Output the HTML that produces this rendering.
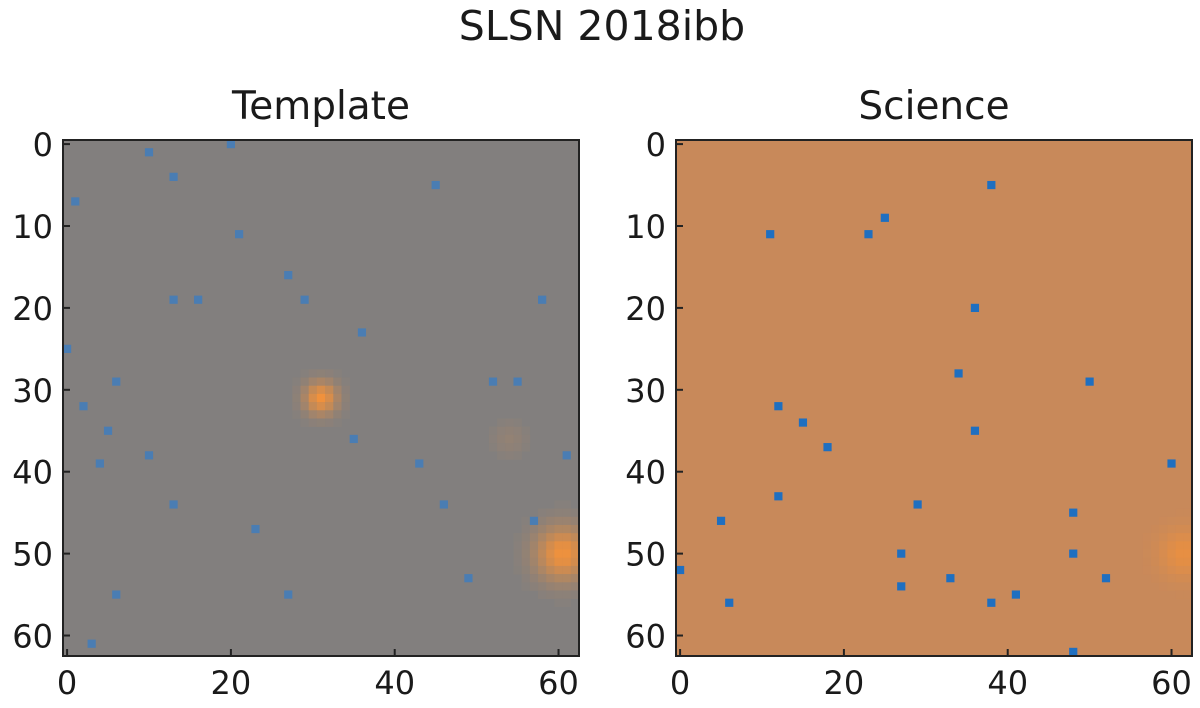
<!DOCTYPE html>
<html><head><meta charset="utf-8"><style>
body{margin:0;background:#fff;}
text{font-family:"DejaVu Sans","Liberation Sans",sans-serif;fill:#1a1a1a;}
</style></head><body>
<svg id="fig" width="1200" height="703" viewBox="0 0 1200 703" xmlns="http://www.w3.org/2000/svg">
<text x="602" y="40" font-size="41" text-anchor="middle">SLSN 2018ibb</text>
<text x="321" y="119" font-size="39" text-anchor="middle">Template</text>
<text x="934" y="119" font-size="39" text-anchor="middle">Science</text>
<g id="p0"></g>
<g id="p1"></g>
</svg>
<script>
const N = 63;
const ticks = [0,10,20,30,40,50,60];
const xticks = [0,20,40,60];
const templateBg = [130,127,126];
const scienceBg = [200,137,90];
const sourceColor = [240,145,60];
const templateSources = [[31,31,1.0,1.4],[60.5,50,1.0,2.3],[54,36,0.15,1.5]];
const scienceSources = [[61.5,50,0.8,2.0]];
const templateBlue = [[10,1],[20,0],[13,4],[1,7],[21,11],[13,19],[16,19],[27,16],[36,23],[0,25],[6,29],[5,35],[4,39],[10,38],[13,44],[2,32],[52,29],[58,19],[61,38],[46,44],[43,39],[55,29],[49,53],[6,55],[27,55],[35,36],[29,19],[45,5],[57,46],[23,47],[3,61]];
const scienceBlue = [[25,9],[11,11],[23,11],[38,5],[36,20],[34,28],[50,29],[12,32],[15,34],[36,35],[18,37],[60,39],[12,43],[29,44],[48,45],[5,46],[27,50],[48,50],[33,53],[52,53],[27,54],[41,55],[6,56],[38,56],[48,62],[0,52]];
const panels = [
 {id:'p0', x0:63, y0:140, bg:templateBg, src:templateSources, blue:templateBlue, blueCol:'#4a7db3', name:'template'},
 {id:'p1', x0:676, y0:140, bg:scienceBg, src:scienceSources, blue:scienceBlue, blueCol:'#1f6fc0', name:'science'}
];
const S = 516;
const NS = 'http://www.w3.org/2000/svg';
function mk(tag, attrs, parent){const e=document.createElementNS(NS,tag);for(const k in attrs)e.setAttribute(k,attrs[k]);parent.appendChild(e);return e;}
panels.forEach(p=>{
  const g = document.getElementById(p.id);
  const cw = S/N;
  const sx = v => p.x0 + (v+0.5)*cw;
  const sy = v => p.y0 + (v+0.5)*cw;
  const bgRect = mk('rect',{x:p.x0,y:p.y0,width:S,height:S,fill:`rgb(${p.bg.join(',')})`},g);
  
  
  for(let r=0;r<N;r++)for(let c=0;c<N;c++){
    let a=0;
    p.src.forEach(s=>{const d=((c-s[0])**2+(r-s[1])**2)/(2*s[3]*s[3]);a+=s[2]*Math.exp(-d);});
    if(a<0.03)continue;a=Math.min(1,a);
    const col=p.bg.map((v,i)=>Math.round(v+(sourceColor[i]-v)*a));
    const cell=mk('rect',{x:sx(c)-cw/2,y:sy(r)-cw/2,width:cw+0.3,height:cw+0.3,fill:`rgb(${col.join(',')})`},g);
    
    
  }
  p.blue.forEach(b=>{
    const cell=mk('rect',{x:sx(b[0])-cw/2,y:sy(b[1])-cw/2,width:cw,height:cw,fill:p.blueCol},g);
    
    
  });
  const frame=mk('rect',{x:p.x0,y:p.y0,width:S,height:S,fill:'none',stroke:'#222','stroke-width':2},g);
  
  
  ticks.forEach(t=>{
    const y=sy(t);
    mk('line',{x1:p.x0,x2:p.x0+7,y1:y,y2:y,stroke:'#222','stroke-width':2},g);
    const tx=mk('text',{x:p.x0-10,y:y+12,'font-size':32,'text-anchor':'end'},g);
    tx.textContent=t;
    
    
  });
  xticks.forEach(t=>{
    const x=sx(t);
    mk('line',{x1:x,x2:x,y1:p.y0+S,y2:p.y0+S-7,stroke:'#222','stroke-width':2},g);
    const tx=mk('text',{x:x,y:p.y0+S+38,'font-size':32,'text-anchor':'middle'},g);
    tx.textContent=t;
    
    
  });
});
</script>
</body></html>
